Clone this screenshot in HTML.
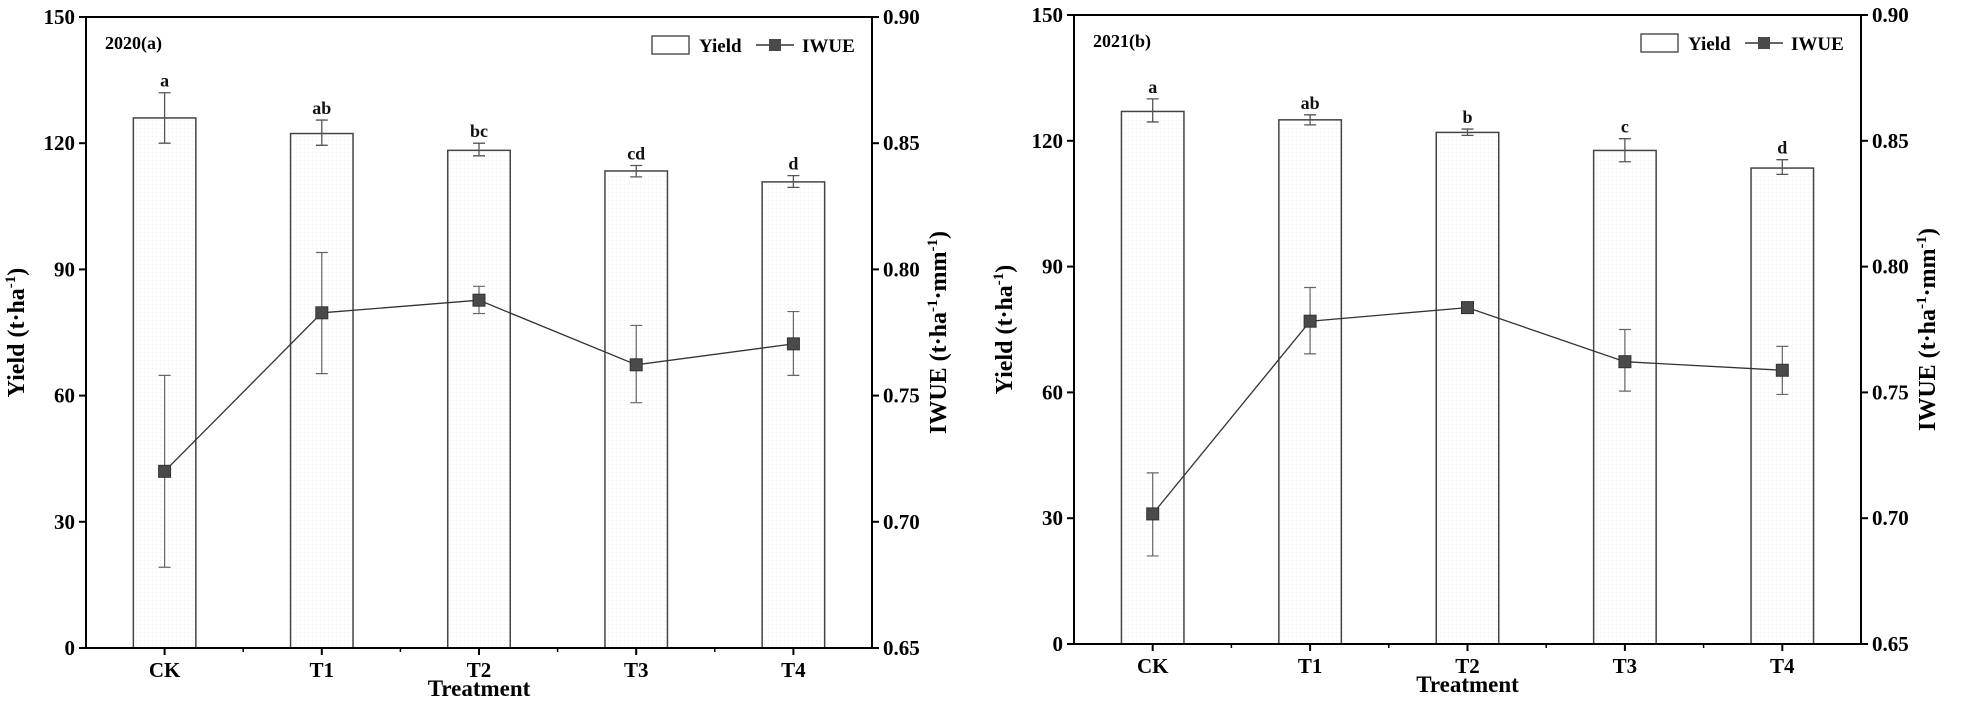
<!DOCTYPE html>
<html><head><meta charset="utf-8">
<style>
html,body{margin:0;padding:0;background:#fff;}
svg{display:block;font-family:"Liberation Serif",serif;font-weight:bold;}
</style></head>
<body>
<svg id="chart" width="1961" height="705" viewBox="0 0 1961 705" xmlns="http://www.w3.org/2000/svg">
<defs>
<pattern id="dots" width="4" height="4" patternUnits="userSpaceOnUse"><rect width="4" height="4" fill="#fff"/><rect width="1" height="1" fill="#eee"/></pattern>
</defs>
</svg>
<script>
const categories = ["CK","T1","T2","T3","T4"];
const yieldTicks = [0,30,60,90,120,150];
const iwueTicks = [0.65,0.70,0.75,0.80,0.85,0.90];
const iwueTickLabels = ["0.65","0.70","0.75","0.80","0.85","0.90"];
// 2020 (a)
const yield2020 = [126, 122.3, 118.3, 113.4, 110.8];
const yield2020Lo = [120, 119.5, 117, 112, 109.5];
const yield2020Hi = [132, 125.5, 120, 114.7, 112.3];
const letters2020 = ["a","ab","bc","cd","d"];
const iwue2020 = [0.720, 0.7828, 0.7878, 0.7622, 0.7705];
const iwue2020Lo = [0.682, 0.7587, 0.7825, 0.7472, 0.758];
const iwue2020Hi = [0.758, 0.8067, 0.7933, 0.7778, 0.7833];
// 2021 (b)
const yield2021 = [127, 125, 122, 117.7, 113.5];
const yield2021Lo = [124.5, 123.8, 121.3, 115, 112];
const yield2021Hi = [130, 126.2, 122.8, 120.5, 115.5];
const letters2021 = ["a","ab","b","c","d"];
const iwue2021 = [0.7017, 0.7783, 0.7837, 0.7622, 0.7588];
const iwue2021Lo = [0.685, 0.7653, 0.7827, 0.7505, 0.7492];
const iwue2021Hi = [0.718, 0.7917, 0.7847, 0.775, 0.7683];

const svg = document.getElementById('chart');
const NS = "http://www.w3.org/2000/svg";
function mk(tag, attrs, parent, text){
  const e = document.createElementNS(NS, tag);
  for (const k in attrs) e.setAttribute(k, attrs[k]);
  if (text !== undefined) e.textContent = text;
  (parent || svg).appendChild(e);
  return e;
}

function panel(cfg){
  const g = mk('g', {});
  
  
  const L = cfg.left, R = cfg.right, T = cfg.top, B = cfg.bottom;
  const n = categories.length;
  const step = (R - L) / n;
  const xc = i => L + step * (i + 0.5);
  const yY = v => B - (v - 0) / 150 * (B - T);
  const yI = v => B - (v - 0.65) / 0.25 * (B - T);
  const bw = 62.5;

  for (let i = 0; i < n; i++) {
    const bar = mk('rect', {x: xc(i) - bw/2, y: yY(cfg.y[i]), width: bw, height: B - yY(cfg.y[i]), fill: 'url(#dots)', stroke: '#444', 'stroke-width': 1.5}, g);
    
    
    const eb = mk('path', {d: `M${xc(i)} ${yY(cfg.yLo[i])}V${yY(cfg.yHi[i])}M${xc(i)-6} ${yY(cfg.yLo[i])}H${xc(i)+6}M${xc(i)-6} ${yY(cfg.yHi[i])}H${xc(i)+6}`, stroke: '#555', 'stroke-width': 1.3, fill: 'none'}, g);
    
    
    const lt = mk('text', {x: xc(i), y: yY(cfg.yHi[i]) - 6, 'text-anchor': 'middle', 'font-size': 18, fill: '#111'}, g, cfg.letters[i]);
    
    
  }
  let d = '';
  for (let i = 0; i < n; i++) d += (i ? 'L' : 'M') + xc(i) + ' ' + yI(cfg.w[i]);
  const ln = mk('path', {d: d, stroke: '#333', 'stroke-width': 1.3, fill: 'none'}, g);
  
  
  for (let i = 0; i < n; i++) {
    const eb = mk('path', {d: `M${xc(i)} ${yI(cfg.wLo[i])}V${yI(cfg.wHi[i])}M${xc(i)-6} ${yI(cfg.wLo[i])}H${xc(i)+6}M${xc(i)-6} ${yI(cfg.wHi[i])}H${xc(i)+6}`, stroke: '#666', 'stroke-width': 1.2, fill: 'none'}, g);
    
    
    const pt = mk('rect', {x: xc(i) - 6, y: yI(cfg.w[i]) - 6, width: 12, height: 12, fill: '#4a4a4a', stroke: '#333', 'stroke-width': 1}, g);
    
    
  }
  const fr = mk('rect', {x: L, y: T, width: R - L, height: B - T, fill: 'none', stroke: '#000', 'stroke-width': 2}, g);
  
  
  yieldTicks.forEach(v => {
    mk('line', {x1: L - 7, x2: L, y1: yY(v), y2: yY(v), stroke: '#000', 'stroke-width': 2}, g);
    const t = mk('text', {x: L - 11, y: yY(v) + 7, 'text-anchor': 'end', 'font-size': 21}, g, String(v));
    
    
  });
  iwueTicks.forEach((v, k) => {
    mk('line', {x1: R, x2: R + 7, y1: yI(v), y2: yI(v), stroke: '#000', 'stroke-width': 2}, g);
    const t = mk('text', {x: R + 11, y: yI(v) + 7, 'text-anchor': 'start', 'font-size': 21}, g, iwueTickLabels[k]);
    
    
  });
  for (let i = 0; i < n; i++) {
    mk('line', {x1: xc(i), x2: xc(i), y1: B, y2: B + 7, stroke: '#000', 'stroke-width': 2}, g);
    if (i > 0) mk('line', {x1: L + step * i, x2: L + step * i, y1: B, y2: B + 4, stroke: '#000', 'stroke-width': 1.5}, g);
    const t = mk('text', {x: xc(i), y: B + 29, 'text-anchor': 'middle', 'font-size': 21}, g, categories[i]);
    
    
  }
  const xt = mk('text', {x: (L + R) / 2, y: B + 48, 'text-anchor': 'middle', 'font-size': 23}, g, 'Treatment');
  
  
  const yt = mk('text', {x: 0, y: 0, 'text-anchor': 'middle', 'font-size': 24, transform: `translate(${L - 62},${(T + B) / 2}) rotate(-90)`}, g);
  
  
  yt.innerHTML = 'Yield (t·ha<tspan dy="-9" font-size="15">-1</tspan><tspan dy="9">)</tspan>';
  const rt = mk('text', {x: 0, y: 0, 'text-anchor': 'middle', 'font-size': 24, transform: `translate(${R + 74},${(T + B) / 2}) rotate(-90)`}, g);
  
  
  rt.innerHTML = 'IWUE (t·ha<tspan dy="-9" font-size="15">-1</tspan><tspan dy="9">·mm</tspan><tspan dy="-9" font-size="15">-1</tspan><tspan dy="9">)</tspan>';
  const pl = mk('text', {x: L + 19, y: T + 32, 'font-size': 18}, g, cfg.label);
  
  
  const lg = mk('g', {}, g);
  
  
  const lx = R - 220;
  const le1 = mk('rect', {x: lx, y: T + 19, width: 37, height: 18, fill: '#fff', stroke: '#555', 'stroke-width': 1.5}, lg);
  
  
  mk('text', {x: lx + 47, y: T + 35, 'font-size': 19}, lg, 'Yield');
  mk('line', {x1: lx + 104, x2: lx + 142, y1: T + 28, y2: T + 28, stroke: '#333', 'stroke-width': 1.5}, lg);
  const le2 = mk('rect', {x: lx + 117, y: T + 22, width: 12, height: 12, fill: '#4a4a4a'}, lg);
  
  
  mk('text', {x: lx + 150, y: T + 35, 'font-size': 19}, lg, 'IWUE');
}

panel({name: 'panel-2020', label: '2020(a)', left: 86, right: 872, top: 17, bottom: 648,
  y: yield2020, yLo: yield2020Lo, yHi: yield2020Hi, letters: letters2020, w: iwue2020, wLo: iwue2020Lo, wHi: iwue2020Hi});
panel({name: 'panel-2021', label: '2021(b)', left: 1074, right: 1861, top: 15, bottom: 644,
  y: yield2021, yLo: yield2021Lo, yHi: yield2021Hi, letters: letters2021, w: iwue2021, wLo: iwue2021Lo, wHi: iwue2021Hi});
</script>
</body></html>
